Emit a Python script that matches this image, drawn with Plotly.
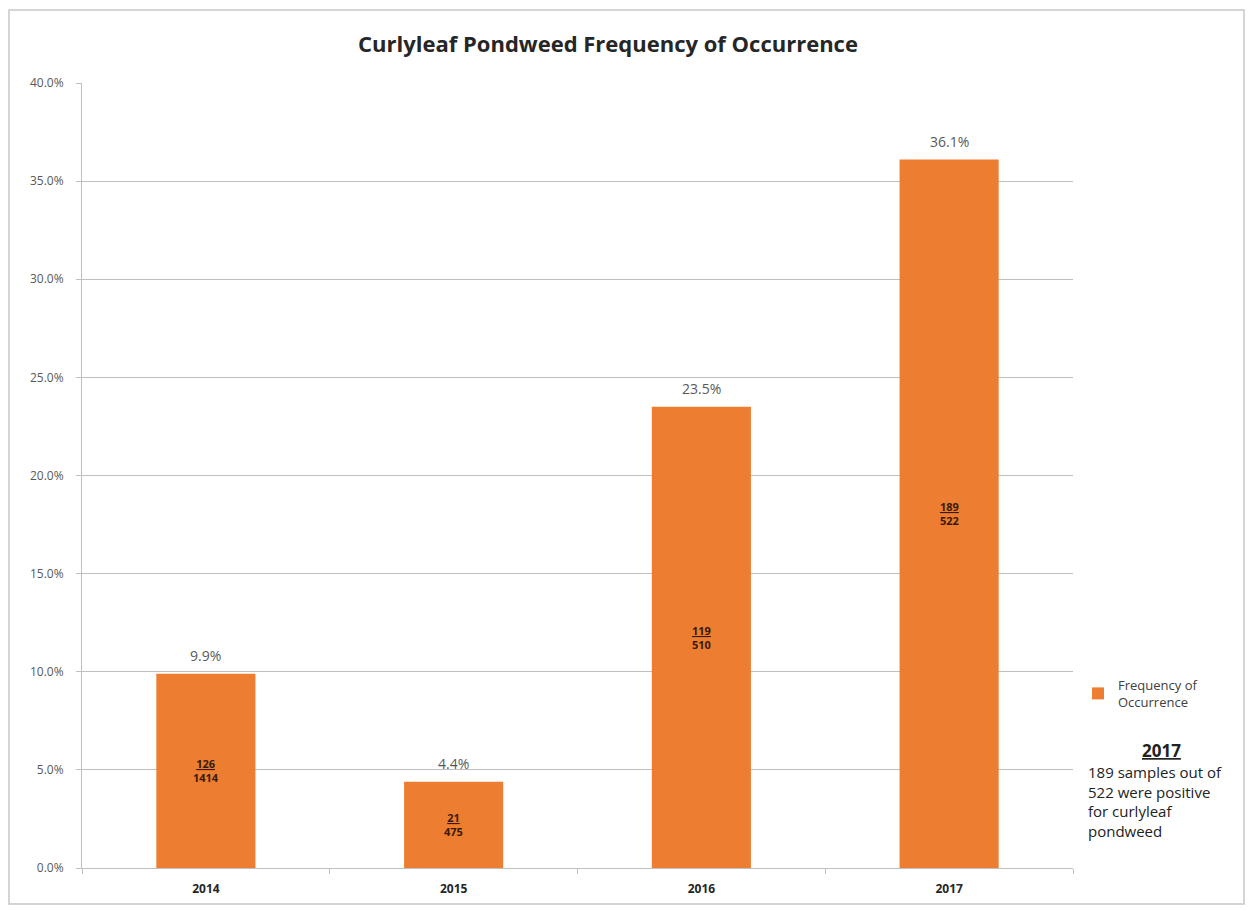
import plotly.graph_objects as go

years = ["2014", "2015", "2016", "2017"]
freq = [9.9, 4.4, 23.5, 36.1]
positives = [126, 21, 119, 189]
totals = [1414, 475, 510, 522]
y_ticks = [0, 5, 10, 15, 20, 25, 30, 35, 40]

OFF = 8  # page body margin
W, H = 1253 - OFF, 911 - OFF
# target screen coordinates of plot area
SL, SR, ST, SB = 82, 1073, 83, 868
L, T = SL - OFF, ST - OFF
R, B = W - (SR - OFF), H - (SB - OFF)
pw, ph = SR - SL, SB - ST

def px_x(x):
    return (x - SL) / pw

def px_y(y):
    return (SB - y) / ph

fig = go.Figure()
fig.add_trace(go.Bar(
    x=years, y=freq, name="Frequency of<br>Occurrence",
    marker=dict(color="#ED7D31", line=dict(width=0)),
    cliponaxis=False,
))

for i, (v, p, t) in enumerate(zip(freq, positives, totals)):
    fig.add_annotation(x=i, y=v / 2, xref="x", yref="y",
                       text=f"<b><u>{p}</u><br>{t}</b>", showarrow=False,
                       font=dict(family="Open Sans", size=11, color="#3a1a05"))
    fig.add_annotation(x=i, y=v, xref="x", yref="y", yanchor="bottom", yshift=7,
                       text=f"{v:.1f}%", showarrow=False,
                       font=dict(family="Open Sans", size=14, color="#595959"))

fig.add_annotation(xref="paper", yref="paper", x=px_x(1161), y=px_y(750),
                   xanchor="center", yanchor="middle", showarrow=False,
                   text="<b><u>2017</u></b>",
                   font=dict(family="Open Sans", size=17, color="#222222"))
fig.add_annotation(xref="paper", yref="paper", x=px_x(1086), y=px_y(760),
                   xanchor="left", yanchor="top", showarrow=False, align="left",
                   text="189 samples out of<br>522 were positive<br>for curlyleaf<br>pondweed",
                   font=dict(family="Open Sans", size=15, color="#222222"))

fig.add_shape(type="rect", xref="paper", yref="paper",
              x0=px_x(9), x1=px_x(1244), y0=px_y(904), y1=px_y(10),
              line=dict(color="#c8c8c8", width=1.5), fillcolor="rgba(0,0,0,0)", layer="below")

fig.update_layout(
    width=W, height=H,
    margin=dict(l=L, r=R, t=T, b=B, autoexpand=False),
    paper_bgcolor="white", plot_bgcolor="white",
    bargap=0.6,
    title=dict(text="<b>Curlyleaf Pondweed Frequency of Occurrence</b>",
               x=px_x(608), xref="paper", xanchor="center",
               y=1 - (44 - OFF) / H, yanchor="middle",
               font=dict(family="Open Sans", size=22, color="#262626")),
    showlegend=True,
    legend=dict(x=px_x(1078), y=px_y(670), xanchor="left", yanchor="top",
                font=dict(family="Open Sans", size=13, color="#404040"),
                bgcolor="rgba(0,0,0,0)"),
    xaxis=dict(type="category", range=[-0.5, 3.5], showgrid=False, showline=True,
               linecolor="#bfbfbf", ticks="outside", tickson="boundaries",
               ticklen=5, tickcolor="#bfbfbf", ticklabelstandoff=10,
               tickfont=dict(family="Open Sans", size=12, color="#262626"),
               tickprefix="<b>", ticksuffix="</b>"),
    yaxis=dict(range=[0, 40], tickvals=y_ticks,
               ticktext=[f"{v:.1f}%" for v in y_ticks],
               showgrid=True, gridcolor="#bfbfbf", gridwidth=1,
               showline=True, linecolor="#bfbfbf", zeroline=False,
               ticks="outside", ticklen=5, tickcolor="#bfbfbf",
               ticklabelstandoff=10,
               tickfont=dict(family="Open Sans", size=12, color="#595959")),
)

fig.write_html("out.html")
